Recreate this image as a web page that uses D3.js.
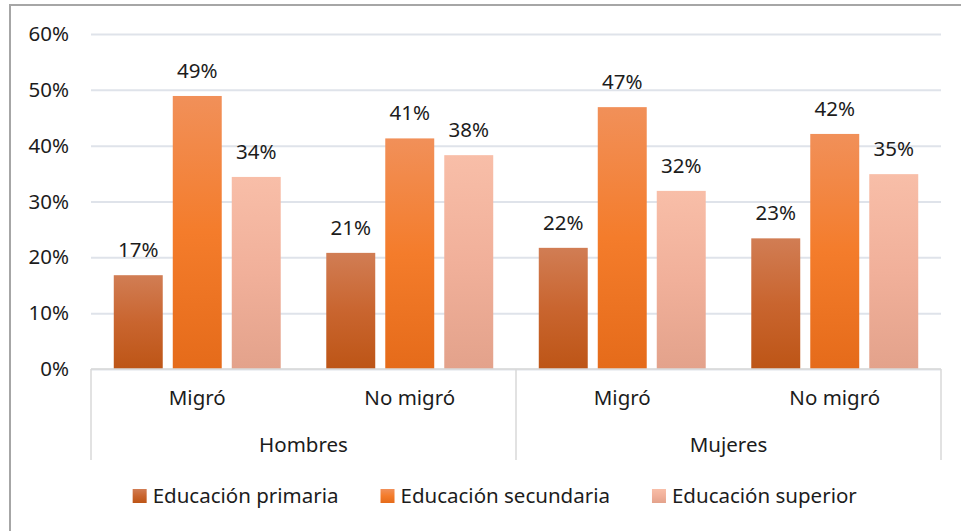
<!DOCTYPE html>
<html>
<head>
<meta charset="utf-8">
<script src="https://cdn.jsdelivr.net/npm/d3@7"></script>
<style>
  body { margin: 0; background: #fff; }
  svg text { font-family: "Noto Sans", "Open Sans", sans-serif; fill: #1c1c1c; }
</style>
</head>
<body>
<svg id="mainSvg" width="961" height="531"></svg>
<script>
// categories
var groups = ["Hombres", "Mujeres"];
var migration = ["Migró", "No migró"];
var seriesNames = ["Educación primaria", "Educación secundaria", "Educación superior"];

// values, in order Hombres-Migró, Hombres-No migró, Mujeres-Migró, Mujeres-No migró
var primaria   = [0.168, 0.208, 0.217, 0.234];
var secundaria = [0.489, 0.413, 0.469, 0.421];
var superior   = [0.344, 0.383, 0.319, 0.349];

var yTicks = [0, 0.1, 0.2, 0.3, 0.4, 0.5, 0.6];

var seriesValues = [primaria, secundaria, superior];
var seriesColors = [
    ["#d17d54", "#c9652f", "#bd5516"],
    ["#f19059", "#f47c2b", "#e56b1a"],
    ["#f8bea8", "#f1b09a", "#e3a28b"]
];

var fontSize = "20.5px";

var svg = d3.select("#mainSvg");

// frame (only top and left edges fall inside the picture)
svg.append("rect")
    .attr("x", 10).attr("y", 5)
    .attr("width", 1000).attr("height", 600)
    .attr("fill", "none")
    .attr("stroke", "#a6a6a6")
    .attr("stroke-width", 2);

var defs = svg.append("defs");
seriesColors.forEach(function(c, i){
    var g = defs.append("linearGradient")
        .attr("id", "grad" + i)
        .attr("x1", 0).attr("y1", 0).attr("x2", 0).attr("y2", 1);
    g.append("stop").attr("offset", "0%").attr("stop-color", c[0]);
    g.append("stop").attr("offset", "50%").attr("stop-color", c[1]);
    g.append("stop").attr("offset", "100%").attr("stop-color", c[2]);
});

var plotLeft = 91, plotRight = 941, plotTop = 34, plotBottom = 369;

var categories = [];
groups.forEach(function(g){
    migration.forEach(function(m){ categories.push(g + "|" + m); });
});

var y = d3.scaleLinear().domain([0, 0.6]).range([plotBottom, plotTop]);

var x0 = d3.scaleBand()
    .domain(categories)
    .range([plotLeft, plotRight])
    .padding(0);

var x1 = d3.scaleBand()
    .domain(d3.range(seriesNames.length))
    .range([0, x0.bandwidth()])
    .paddingInner(0.17)
    .paddingOuter(0.386);

var xg = d3.scaleBand()
    .domain(groups)
    .range([plotLeft, plotRight]);

// y axis with gridlines
var yAxis = svg.append("g")
    .attr("transform", "translate(" + plotLeft + ",0)")
    .call(d3.axisLeft(y)
        .tickValues(yTicks)
        .tickSize(-(plotRight - plotLeft))
        .tickPadding(22)
        .tickFormat(d3.format(".0%")));
yAxis.select(".domain").remove();
yAxis.selectAll(".tick line")
    .attr("stroke", "#dfe3ea")
    .attr("stroke-width", 2);
yAxis.selectAll(".tick text")
    .attr("font-size", fontSize)
    .attr("font-family", null)
    .attr("fill", "#1c1c1c");

// bars
var barGroups = svg.selectAll(".catGroup")
    .data(categories)
    .enter()
    .append("g")
    .attr("class", "catGroup")
    .attr("transform", function(d){ return "translate(" + x0(d) + ",0)"; });

barGroups.each(function(cat, ci){
    var g = d3.select(this);
    var rows = seriesValues.map(function(vals, si){ return { s: si, v: vals[ci] }; });

    g.selectAll("rect")
        .data(rows)
        .enter()
        .append("rect")
        .attr("x", function(d){ return x1(d.s); })
        .attr("y", function(d){ return y(d.v); })
        .attr("width", x1.bandwidth())
        .attr("height", function(d){ return y(0) - y(d.v); })
        .attr("fill", function(d){ return "url(#grad" + d.s + ")"; });

    g.selectAll(".valLabel")
        .data(rows)
        .enter()
        .append("text")
        .attr("class", "valLabel")
        .attr("x", function(d){ return x1(d.s) + x1.bandwidth() / 2; })
        .attr("y", function(d){ return y(d.v) - 18; })
        .attr("text-anchor", "middle")
        .attr("font-size", fontSize)
        .text(function(d){ return d3.format(".0%")(d.v); });
});

// category axis
var axisColor = "#d9d9d9";
svg.append("line")
    .attr("x1", plotLeft).attr("x2", plotRight)
    .attr("y1", plotBottom).attr("y2", plotBottom)
    .attr("stroke", axisColor).attr("stroke-width", 1.5);

var sepX = [plotLeft].concat(groups.map(function(g){ return xg(g) + xg.bandwidth(); }));
svg.selectAll(".sep")
    .data(sepX)
    .enter()
    .append("line")
    .attr("class", "sep")
    .attr("x1", function(d){ return d; }).attr("x2", function(d){ return d; })
    .attr("y1", plotBottom).attr("y2", 460)
    .attr("stroke", axisColor).attr("stroke-width", 1.5);

svg.selectAll(".catLabel")
    .data(categories)
    .enter()
    .append("text")
    .attr("class", "catLabel")
    .attr("x", function(d){ return x0(d) + x0.bandwidth() / 2; })
    .attr("y", 405)
    .attr("text-anchor", "middle")
    .attr("font-size", fontSize)
    .text(function(d){ return d.split("|")[1]; });

svg.selectAll(".groupLabel")
    .data(groups)
    .enter()
    .append("text")
    .attr("class", "groupLabel")
    .attr("x", function(d){ return xg(d) + xg.bandwidth() / 2; })
    .attr("y", 452)
    .attr("text-anchor", "middle")
    .attr("font-size", fontSize)
    .text(function(d){ return d; });

// legend
var legend = svg.append("g").attr("class", "legend");
var legendItems = legend.selectAll(".legItem")
    .data(seriesNames)
    .enter()
    .append("g")
    .attr("class", "legItem");

legendItems.append("rect")
    .attr("x", 0).attr("y", -7)
    .attr("width", 14).attr("height", 14)
    .attr("fill", function(d, i){ return "url(#grad" + i + ")"; });

legendItems.append("text")
    .attr("x", 20)
    .attr("y", 0)
    .attr("dy", "0.35em")
    .attr("font-size", fontSize)
    .text(function(d){ return d; });

var offsets = [], cursor = 0;
legendItems.each(function(){
    offsets.push(cursor);
    cursor += this.getBBox().width + 42;
});
var totalW = cursor - 42;
var legendStart = 495 - totalW / 2;
legendItems.attr("transform", function(d, i){
    return "translate(" + (legendStart + offsets[i]) + ",496)";
});
</script>
</body>
</html>
